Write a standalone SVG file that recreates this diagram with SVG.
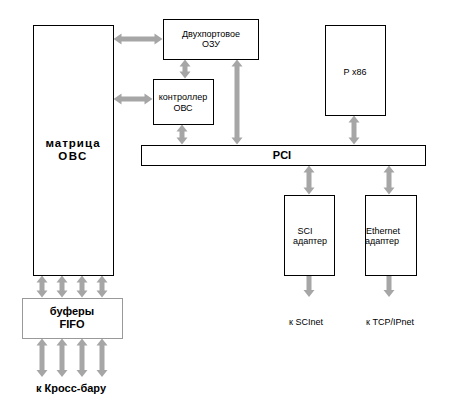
<svg xmlns="http://www.w3.org/2000/svg" width="453" height="406" viewBox="0 0 453 406">
<style>
.box{fill:#fff;stroke:#000;stroke-width:1}
.gbox{fill:#fff;stroke:#999;stroke-width:1}
.arr{fill:#a6a6a6}
.s{font-family:"Liberation Sans",Arial,sans-serif;font-size:9px;text-anchor:middle;fill:#000}
.b{font-family:"Liberation Sans",Arial,sans-serif;font-size:11px;font-weight:bold;text-anchor:middle;fill:#000}
</style>
<rect width="453" height="406" fill="#fff"/>
<g id="connectors">
<polygon class="arr" points="113.5,39 121.5,33.5 121.5,36.5 154.5,36.5 154.5,33.5 162.5,39 154.5,44.5 154.5,41.5 121.5,41.5 121.5,44.5"/>
<polygon class="arr" points="113.5,99 121.5,93.5 121.5,96.5 144.5,96.5 144.5,93.5 152.5,99 144.5,104.5 144.5,101.5 121.5,101.5 121.5,104.5"/>
<polygon class="arr" points="185,59.5 190.5,66.5 187.5,66.5 187.5,71.5 190.5,71.5 185,78.5 179.5,71.5 182.5,71.5 182.5,66.5 179.5,66.5"/>
<polygon class="arr" points="182,124.5 187.5,131.5 184.5,131.5 184.5,137.5 187.5,137.5 182,144.5 176.5,137.5 179.5,137.5 179.5,131.5 176.5,131.5"/>
<polygon class="arr" points="237,59.5 242.5,66.5 239.5,66.5 239.5,137.5 242.5,137.5 237,144.5 231.5,137.5 234.5,137.5 234.5,66.5 231.5,66.5"/>
<polygon class="arr" points="354,115.5 359.5,122.5 356.5,122.5 356.5,137.5 359.5,137.5 354,144.5 348.5,137.5 351.5,137.5 351.5,122.5 348.5,122.5"/>
<polygon class="arr" points="309,165.5 314.5,172.5 311.5,172.5 311.5,187.5 314.5,187.5 309,194.5 303.5,187.5 306.5,187.5 306.5,172.5 303.5,172.5"/>
<polygon class="arr" points="389,165.5 394.5,172.5 391.5,172.5 391.5,187.5 394.5,187.5 389,194.5 383.5,187.5 386.5,187.5 386.5,172.5 383.5,172.5"/>
<polygon class="arr" points="306.5,275.5 311.5,275.5 311.5,290 314.5,290 309,297 303.5,290 306.5,290"/>
<polygon class="arr" points="386.5,275.5 391.5,275.5 391.5,290 394.5,290 389,297 383.5,290 386.5,290"/>
<polygon class="arr" points="42,275.5 47.5,282.5 44.5,282.5 44.5,290.5 47.5,290.5 42,297.5 36.5,290.5 39.5,290.5 39.5,282.5 36.5,282.5"/>
<polygon class="arr" points="62,275.5 67.5,282.5 64.5,282.5 64.5,290.5 67.5,290.5 62,297.5 56.5,290.5 59.5,290.5 59.5,282.5 56.5,282.5"/>
<polygon class="arr" points="82,275.5 87.5,282.5 84.5,282.5 84.5,290.5 87.5,290.5 82,297.5 76.5,290.5 79.5,290.5 79.5,282.5 76.5,282.5"/>
<polygon class="arr" points="102,275.5 107.5,282.5 104.5,282.5 104.5,290.5 107.5,290.5 102,297.5 96.5,290.5 99.5,290.5 99.5,282.5 96.5,282.5"/>
<polygon class="arr" points="42,338.5 47.5,345.5 44.5,345.5 44.5,370 47.5,370 42,377 36.5,370 39.5,370 39.5,345.5 36.5,345.5"/>
<polygon class="arr" points="62,338.5 67.5,345.5 64.5,345.5 64.5,370 67.5,370 62,377 56.5,370 59.5,370 59.5,345.5 56.5,345.5"/>
<polygon class="arr" points="82,338.5 87.5,345.5 84.5,345.5 84.5,370 87.5,370 82,377 76.5,370 79.5,370 79.5,345.5 76.5,345.5"/>
<polygon class="arr" points="102,338.5 107.5,345.5 104.5,345.5 104.5,370 107.5,370 102,377 96.5,370 99.5,370 99.5,345.5 96.5,345.5"/>
</g>
<g id="matrix">
<rect class="box" x="33.5" y="25.5" width="80" height="250"/>
<text class="b" x="73" y="147" style="font-size:11.5px;letter-spacing:1px">матрица</text>
<text class="b" x="73" y="160" style="font-size:11.5px;letter-spacing:1.5px">ОВС</text>
</g>
<g id="ram">
<rect class="box" x="163.5" y="19.5" width="95" height="40"/>
<text class="s" x="211" y="37">Двухпортовое</text>
<text class="s" x="211" y="47">ОЗУ</text>
</g>
<g id="controller">
<rect class="box" x="153.5" y="79.5" width="60" height="45"/>
<text class="s" x="183" y="100">контроллер</text>
<text class="s" x="183" y="111">ОВС</text>
</g>
<g id="px86">
<rect class="box" x="325.5" y="25.5" width="60" height="90"/>
<text class="s" x="355" y="75">P x86</text>
</g>
<g id="pci">
<rect class="box" x="141.5" y="145.5" width="284" height="20"/>
<text class="b" x="282" y="159">PCI</text>
</g>
<g id="sci">
<rect class="box" x="284.5" y="195.5" width="50" height="80"/>
<text class="s" x="305" y="234">SCI</text>
<text class="s" x="310" y="244">адаптер</text>
</g>
<g id="ethernet">
<rect class="box" x="365.5" y="195.5" width="51" height="80"/>
<text class="s" x="383" y="234">Ethernet</text>
<text class="s" x="382" y="244">адаптер</text>
</g>
<g id="fifo">
<rect class="gbox" x="22.5" y="298.5" width="100" height="40"/>
<text class="b" x="72" y="315">буферы</text>
<text class="b" x="72" y="328">FIFO</text>
</g>
<g id="labels">
<text class="s" x="306" y="325">к SCInet</text>
<text class="s" x="390" y="325">к TCP/IPnet</text>
<text class="b" x="71" y="392">к Кросс-бару</text>
</g>
</svg>
